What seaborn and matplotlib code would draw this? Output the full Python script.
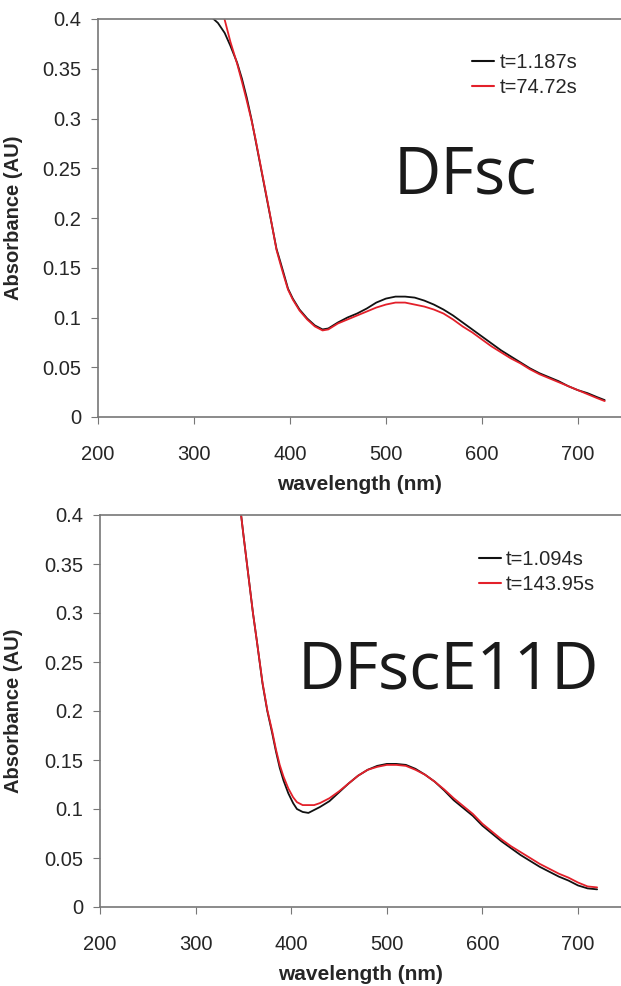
import matplotlib
matplotlib.use("Agg")
import matplotlib.pyplot as plt
import seaborn as sns

# DFsc spectra (top panel)
wl_dfsc_a = [317, 325, 332, 338, 345, 350, 355, 360, 364, 370, 374, 378, 382, 386, 390, 393,
             398, 403, 410, 418, 426, 434, 440, 450, 460, 470, 480, 490, 500, 510, 520, 530,
             540, 550, 560, 570, 580, 590, 600, 610, 620, 630, 640, 650, 660, 670, 680, 690,
             700, 710, 720, 728]
abs_dfsc_a = [0.403, 0.396, 0.386, 0.373, 0.356, 0.340, 0.321, 0.299, 0.279, 0.249, 0.229,
              0.209, 0.189, 0.169, 0.156, 0.146, 0.129, 0.119, 0.108, 0.099, 0.092, 0.088,
              0.089, 0.095, 0.100, 0.104, 0.109, 0.115, 0.119, 0.121, 0.121, 0.120, 0.117,
              0.113, 0.108, 0.102, 0.095, 0.088, 0.081, 0.074, 0.067, 0.061, 0.055, 0.049,
              0.044, 0.040, 0.036, 0.031, 0.027, 0.024, 0.020, 0.017]
wl_dfsc_b = [331, 338, 345, 350, 355, 360, 364, 370, 374, 378, 382, 386, 390, 393, 398, 403,
             410, 418, 426, 434, 440, 450, 460, 470, 480, 490, 500, 510, 520, 530, 540, 550,
             560, 570, 580, 590, 600, 610, 620, 630, 640, 650, 660, 670, 680, 690, 700, 710,
             720, 728]
abs_dfsc_b = [0.403, 0.377, 0.355, 0.337, 0.318, 0.298, 0.280, 0.250, 0.230, 0.210, 0.189,
              0.168, 0.154, 0.144, 0.128, 0.118, 0.107, 0.098, 0.091, 0.087, 0.088, 0.094,
              0.098, 0.102, 0.106, 0.110, 0.113, 0.115, 0.115, 0.113, 0.111, 0.108, 0.104,
              0.098, 0.091, 0.085, 0.078, 0.071, 0.065, 0.059, 0.054, 0.048, 0.043, 0.039,
              0.035, 0.031, 0.027, 0.023, 0.019, 0.016]

# DFscE11D spectra (bottom panel)
wl_e11d_a = [347, 350, 355, 360, 364, 370, 375, 380, 384, 388, 392, 397, 402, 406, 412, 418,
             424, 430, 440, 450, 460, 470, 480, 490, 500, 510, 520, 530, 540, 550, 560, 570,
             580, 590, 600, 610, 620, 630, 640, 650, 660, 670, 680, 690, 700, 710, 720]
abs_e11d_a = [0.405, 0.38, 0.34, 0.30, 0.272, 0.228, 0.200, 0.178, 0.159, 0.142, 0.129,
              0.116, 0.106, 0.100, 0.097, 0.096, 0.099, 0.102, 0.108, 0.117, 0.126, 0.134,
              0.140, 0.144, 0.146, 0.146, 0.145, 0.141, 0.135, 0.128, 0.119, 0.109, 0.101,
              0.093, 0.083, 0.075, 0.067, 0.060, 0.053, 0.047, 0.041, 0.036, 0.031, 0.027,
              0.022, 0.019, 0.018]
wl_e11d_b = [347, 350, 355, 360, 364, 370, 375, 380, 384, 388, 392, 397, 402, 406, 412, 418,
             424, 430, 440, 450, 460, 470, 480, 490, 500, 510, 520, 530, 540, 550, 560, 570,
             580, 590, 600, 610, 620, 630, 640, 650, 660, 670, 680, 690, 700, 710, 720]
abs_e11d_b = [0.405, 0.38, 0.34, 0.30, 0.272, 0.229, 0.201, 0.180, 0.161, 0.145, 0.133,
              0.121, 0.112, 0.107, 0.104, 0.104, 0.104, 0.106, 0.111, 0.118, 0.126, 0.134,
              0.140, 0.143, 0.145, 0.145, 0.144, 0.140, 0.135, 0.128, 0.120, 0.111, 0.103,
              0.095, 0.085, 0.077, 0.069, 0.062, 0.056, 0.050, 0.044, 0.039, 0.034, 0.030,
              0.025, 0.021, 0.020]

labels_top = ["t=1.187s", "t=74.72s"]
labels_bot = ["t=1.094s", "t=143.95s"]
x_ticks = [200, 300, 400, 500, 600, 700]
y_ticks = [0, 0.05, 0.1, 0.15, 0.2, 0.25, 0.3, 0.35, 0.4]
y_ticklabels = ["0", "0.05", "0.1", "0.15", "0.2", "0.25", "0.3", "0.35", "0.4"]

sns.set_style("white")
plt.rcParams['font.family'] = ['Liberation Sans', 'DejaVu Sans']

BLACK = "#111111"
RED = "#e3202a"

fig = plt.figure(figsize=(6.21, 9.86), dpi=100)
ax1 = fig.add_axes([98 / 621, 1 - 417 / 986, 1 - 98 / 621, 398 / 986])
ax2 = fig.add_axes([100 / 621, 1 - 907 / 986, 1 - 100 / 621, 392 / 986])


def draw_panel(ax, xa, ya, xb, yb, labels, leg_anchor, name, name_pos):
    sns.lineplot(x=xa, y=ya, ax=ax, color=BLACK, lw=1.3, label=labels[0])
    sns.lineplot(x=xb, y=yb, ax=ax, color=RED, lw=1.3, label=labels[1])
    ax.set_xlim(200, 745)
    ax.set_ylim(0, 0.4)
    ax.set_xticks(x_ticks)
    ax.set_yticks(y_ticks)
    ax.set_yticklabels(y_ticklabels)
    ax.tick_params(axis='y', direction='out', length=5, width=0.8, color='#777777',
                   pad=7, labelsize=14.5, left=True)
    ax.tick_params(axis='x', direction='out', length=5, width=0.8, color='#777777',
                   pad=15, labelsize=14.5, bottom=True)
    for s in ['left', 'bottom', 'top']:
        ax.spines[s].set_color('#777777')
        ax.spines[s].set_linewidth(1.2)
    ax.spines['right'].set_visible(False)
    ax.set_xlabel("wavelength (nm)", fontsize=15, fontweight='bold', labelpad=8)
    ax.set_ylabel("Absorbance (AU)", fontsize=14.5, fontweight='bold')
    leg = ax.legend(loc='upper right', bbox_to_anchor=leg_anchor, frameon=False,
                    fontsize=14.5, handlelength=1.1, handletextpad=0.25,
                    labelspacing=0.3, borderpad=0, borderaxespad=0)
    for line in leg.get_lines():
        line.set_linewidth(1.5)
    ax.text(name_pos[0], name_pos[1], name, transform=fig.transFigure,
            ha='center', va='center', fontsize=47, family='Open Sans', color='#1a1a1a')


draw_panel(ax1, wl_dfsc_a, abs_dfsc_a, wl_dfsc_b, abs_dfsc_b, labels_top,
           (0.916, 0.915), "DFsc", (0.749, 0.8215))
draw_panel(ax2, wl_e11d_a, abs_e11d_a, wl_e11d_b, abs_e11d_b, labels_bot,
           (0.950, 0.911), "DFscE11D", (0.7214, 0.3185))

ax1.yaxis.set_label_coords(-0.143, 0.5)
ax2.yaxis.set_label_coords(-0.148, 0.5)

fig.savefig("out.png", dpi=100)
